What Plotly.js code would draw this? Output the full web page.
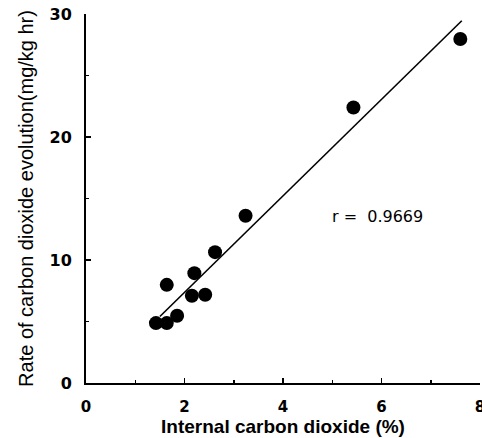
<!DOCTYPE html>
<html><head><meta charset="utf-8">
<script src="https://cdn.plot.ly/plotly-3.0.1.min.js"></script>
<style>html,body{margin:0;padding:0;background:#fff}#c{width:482px;height:438px}</style>
</head><body><div id="c"></div>
<script>
var internalCO2 = [1.42, 1.64, 1.85, 1.64, 2.15, 2.42, 2.20, 2.62, 3.24, 5.43, 7.60];
var co2Rate = [4.87, 4.87, 5.47, 7.98, 7.09, 7.17, 8.93, 10.64, 13.6, 22.4, 27.97];
var fitX = [1.5, 7.63];
var fitY = [5.41, 29.45];
var rLabel = 'r =  0.9669';
var xTicks = [0, 2, 4, 6, 8];
var yTicks = [0, 10, 20, 30];

var fam = 'Liberation Sans, Arial, sans-serif';
var wide = 'DejaVu Sans, sans-serif';
Plotly.newPlot('c', [
  {x: fitX, y: fitY, mode: 'lines', line: {color: '#000', width: 1.6}, hoverinfo: 'skip'},
  {x: internalCO2, y: co2Rate, mode: 'markers', marker: {color: '#000', size: 14, symbol: 'circle'}}
], {
  width: 482, height: 438,
  margin: {l: 86, r: 2, t: 14, b: 55},
  showlegend: false,
  paper_bgcolor: '#fff', plot_bgcolor: '#fff',
  font: {family: fam, color: '#000'},
  xaxis: {
    range: [0, 8], tickvals: xTicks, ticktext: xTicks.map(String),
    showgrid: false, zeroline: false, showline: true, linecolor: '#000', linewidth: 2,
    ticks: 'inside', ticklen: 5, tickwidth: 1.5, tickcolor: '#000',
    minor: {dtick: 1, tick0: 0, ticks: 'inside', ticklen: 3, tickwidth: 1.5, tickcolor: '#000'},
    tickfont: {family: wide, size: 15, weight: 'bold', color: '#000'},
    ticklabeloverflow: 'allow', ticklabelstandoff: 9,
    title: {text: 'Internal carbon dioxide (%)', font: {family: fam, size: 19, weight: 'bold', color: '#000'}, standoff: 0},
    fixedrange: true
  },
  yaxis: {
    range: [0, 30], tickvals: yTicks, ticktext: yTicks.map(String),
    showgrid: false, zeroline: false, showline: true, linecolor: '#000', linewidth: 2,
    ticks: 'inside', ticklen: 5, tickwidth: 1.5, tickcolor: '#000',
    minor: {dtick: 5, tick0: 0, ticks: 'inside', ticklen: 3, tickwidth: 1, tickcolor: '#000'},
    tickfont: {family: wide, size: 16, weight: 'bold', color: '#000'},
    ticklabelstandoff: 9,
    title: {text: 'Rate of carbon dioxide evolution(mg/kg hr)', font: {family: fam, size: 20, color: '#000'}, standoff: 11},
    fixedrange: true
  },
  annotations: [{x: 4.95, y: 13.5, xref: 'x', yref: 'y', text: rLabel, showarrow: false, xanchor: 'left', yanchor: 'middle', font: {family: wide, size: 16, color: '#000'}}]
}, {displayModeBar: false, staticPlot: true});
</script></body></html>
